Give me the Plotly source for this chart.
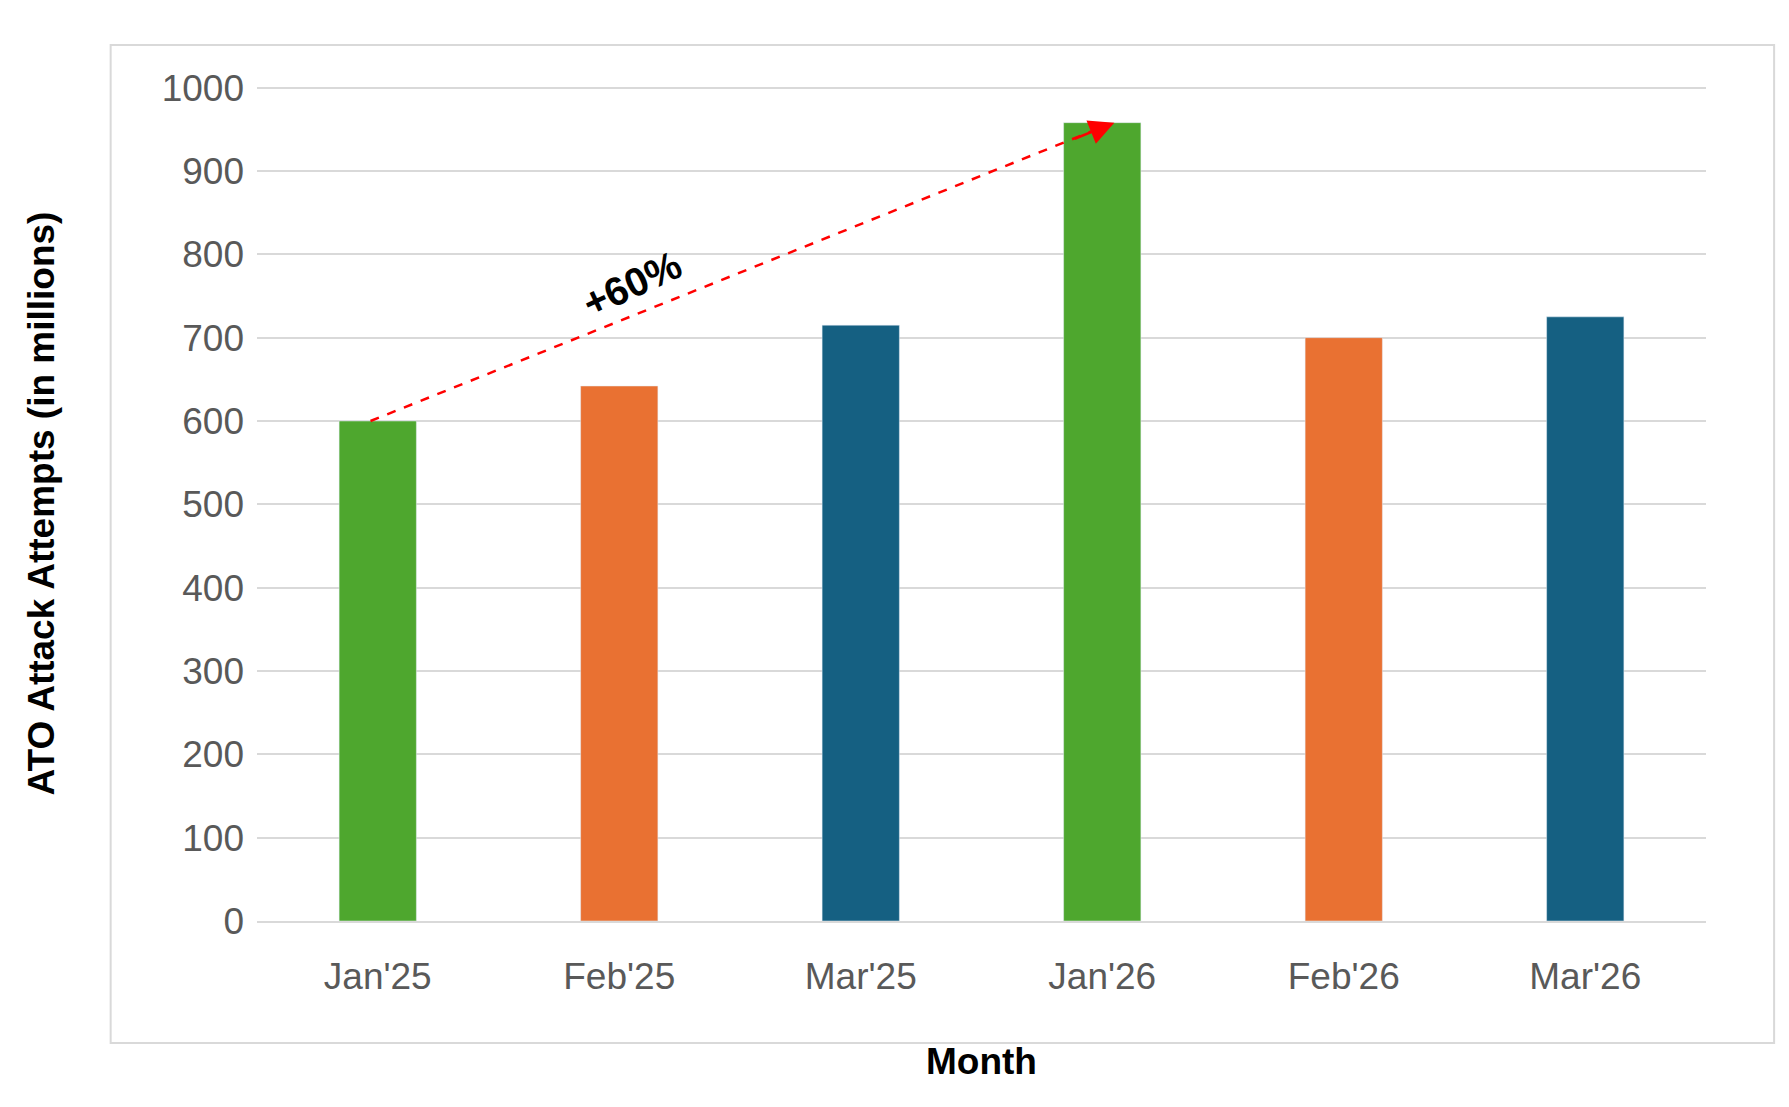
import plotly.graph_objects as go

months = ["Jan'25", "Feb'25", "Mar'25", "Jan'26", "Feb'26", "Mar'26"]
values = [600, 642, 715, 958, 700, 725]
colors = ["#4EA72E", "#E97132", "#156082", "#4EA72E", "#E97132", "#156082"]

fig = go.Figure(go.Bar(x=months, y=values, marker_color=colors, width=0.32))

fig.update_layout(
    width=1789, height=1107, plot_bgcolor="white", paper_bgcolor="white",
    margin=dict(l=249, r=91, t=78, b=194), showlegend=False,
    font=dict(family="Liberation Sans, Arial", color="#595959", size=37),
    xaxis=dict(title=dict(text="<b>Month</b>", font=dict(color="black", size=37), standoff=52),
               showline=True, linecolor="#D9D9D9", linewidth=2, ticks="", ticklabelstandoff=22),
    yaxis=dict(title=dict(text="<b>ATO Attack Attempts (in millions)</b>", font=dict(color="black", size=37), standoff=95),
               range=[0, 1002], tickvals=list(range(0, 1001, 100)), gridcolor="#D9D9D9", gridwidth=2,
               zeroline=False, ticklabelstandoff=12),
)
fig.add_shape(type="rect", xref="paper", yref="paper", x0=-0.101, x1=1.047, y0=-0.146, y1=1.049,
              line=dict(color="#D9D9D9", width=2), layer="below")
fig.add_shape(type="line", x0=-0.03, y0=600, x1=3.02, y1=955,
              line=dict(color="red", width=2.5, dash="dash"))
fig.add_annotation(x=3.05, y=958, ax=2.88, ay=938, xref="x", yref="y", axref="x", ayref="y",
                   text="", showarrow=True, arrowhead=2, arrowsize=2, arrowwidth=2.5, arrowcolor="red")
fig.add_annotation(x=1.05, y=765, text="<b>+60%</b>", showarrow=False, textangle=-25,
                   font=dict(color="black", size=40))
fig.write_html("out.html")
